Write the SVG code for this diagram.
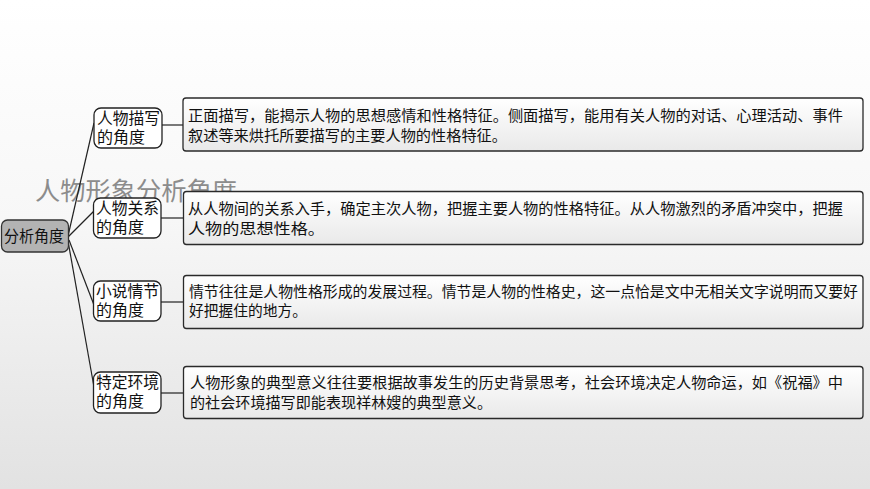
<svg xmlns="http://www.w3.org/2000/svg" width="870" height="489" viewBox="0 0 870 489">
<defs>
<linearGradient id="bg" x1="0" y1="0" x2="0" y2="1">
<stop offset="0" stop-color="#ffffff"/>
<stop offset="0.45" stop-color="#f7f7f7"/>
<stop offset="1" stop-color="#e2e2e2"/>
</linearGradient>
<linearGradient id="tb" x1="0" y1="0" x2="0" y2="1">
<stop offset="0" stop-color="#ffffff"/>
<stop offset="1" stop-color="#e9e9e9"/>
</linearGradient>
<style>
.t{font-family:"Noto Sans CJK SC","Noto Sans",sans-serif;fill:#111;}
.d{font-size:15px;}
.c{font-size:16px;}
.cb{fill:#ffffff;stroke:#222;stroke-width:1.3;}
.tb{fill:url(#tb);stroke:#2a2a2a;stroke-width:1.3;}
.ln{stroke:#222;stroke-width:1.2;fill:none;}
</style>
</defs>
<rect x="0" y="0" width="870" height="489" fill="url(#bg)"/>
<text class="t" x="35" y="200" font-size="25" textLength="202" lengthAdjust="spacingAndGlyphs" style="fill:#8c8c8c">人物形象分析角度</text>
<g id="connectors">
<line class="ln" x1="68" y1="236" x2="94" y2="123"/>
<line class="ln" x1="68" y1="237" x2="94" y2="211"/>
<line class="ln" x1="69" y1="240" x2="94" y2="305"/>
<line class="ln" x1="68" y1="241" x2="94" y2="387"/>
<line class="ln" x1="162" y1="125" x2="183" y2="125"/>
<line class="ln" x1="161" y1="218" x2="183" y2="218"/>
<line class="ln" x1="161" y1="302" x2="183" y2="302"/>
<line class="ln" x1="161" y1="393" x2="183" y2="393"/>
</g>
<g id="root">
<rect x="1.5" y="220" width="67" height="32" rx="6" fill="#b3b3b3" stroke="#333" stroke-width="1.3"/>
<text class="t" x="4" y="242" font-size="15.5" textLength="60" lengthAdjust="spacingAndGlyphs">分析角度</text>
</g>
<g id="n1">
<rect class="cb" x="94" y="108" width="68" height="40" rx="7"/>
<text class="t c" x="97" y="124" textLength="63" lengthAdjust="spacingAndGlyphs">人物描写</text>
<text class="t c" x="97" y="143">的角度</text>
</g>
<g id="n2">
<rect class="cb" x="93.5" y="198" width="67.5" height="40" rx="7"/>
<text class="t c" x="96" y="214" textLength="63" lengthAdjust="spacingAndGlyphs">人物关系</text>
<text class="t c" x="96" y="233">的角度</text>
</g>
<g id="n3">
<rect class="cb" x="93.5" y="281" width="67.5" height="40" rx="7"/>
<text class="t c" x="96" y="297" textLength="63" lengthAdjust="spacingAndGlyphs">小说情节</text>
<text class="t c" x="96" y="316">的角度</text>
</g>
<g id="n4">
<rect class="cb" x="93.5" y="372" width="67.5" height="41" rx="7"/>
<text class="t c" x="96" y="388" textLength="63" lengthAdjust="spacingAndGlyphs">特定环境</text>
<text class="t c" x="96" y="407">的角度</text>
</g>
<g id="d1">
<rect class="tb" x="183" y="98" width="680" height="53" rx="3"/>
<text class="t d" x="188" y="121" textLength="655" lengthAdjust="spacingAndGlyphs">正面描写，能揭示人物的思想感情和性格特征。侧面描写，能用有关人物的对话、心理活动、事件</text>
<text class="t d" x="188" y="141" textLength="319" lengthAdjust="spacingAndGlyphs">叙述等来烘托所要描写的主要人物的性格特征。</text>
</g>
<g id="d2">
<rect class="tb" x="183.5" y="191.5" width="679.5" height="53" rx="3"/>
<text class="t d" x="188" y="214" textLength="655" lengthAdjust="spacingAndGlyphs">从人物间的关系入手，确定主次人物，把握主要人物的性格特征。从人物激烈的矛盾冲突中，把握</text>
<text class="t d" x="188" y="234" textLength="137" lengthAdjust="spacingAndGlyphs">人物的思想性格。</text>
</g>
<g id="d3">
<rect class="tb" x="183.5" y="275.5" width="679.5" height="53" rx="3"/>
<text class="t d" x="189" y="297" textLength="669" lengthAdjust="spacingAndGlyphs">情节往往是人物性格形成的发展过程。情节是人物的性格史，这一点恰是文中无相关文字说明而又要好</text>
<text class="t d" x="189" y="316" textLength="118" lengthAdjust="spacingAndGlyphs">好把握住的地方。</text>
</g>
<g id="d4">
<rect class="tb" x="183.5" y="366.5" width="679.5" height="52" rx="3"/>
<text class="t d" x="190" y="388" textLength="653" lengthAdjust="spacingAndGlyphs">人物形象的典型意义往往要根据故事发生的历史背景思考，社会环境决定人物命运，如《祝福》中</text>
<text class="t d" x="190" y="408" textLength="302" lengthAdjust="spacingAndGlyphs">的社会环境描写即能表现祥林嫂的典型意义。</text>
</g>
</svg>
